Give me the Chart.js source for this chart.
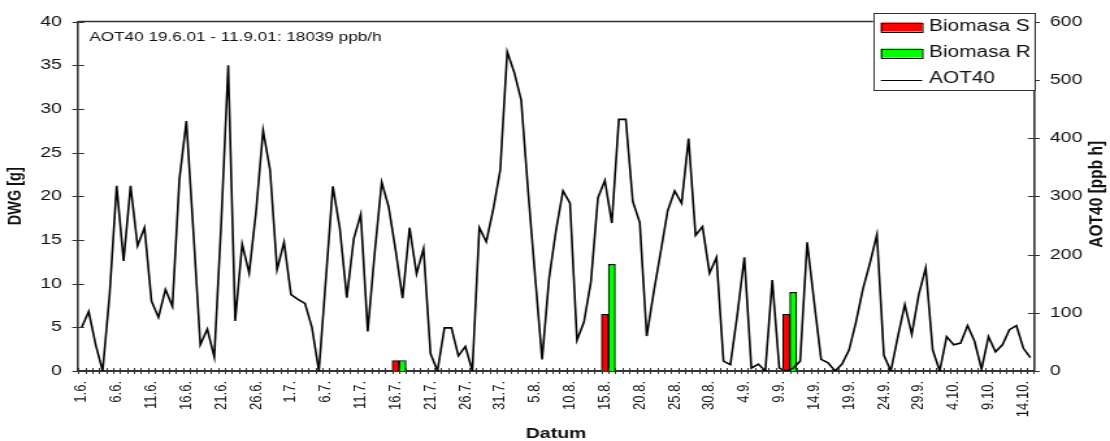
<!DOCTYPE html>
<html>
<head>
<meta charset="utf-8">
<script src="https://cdn.jsdelivr.net/npm/chart.js@4.4.1/dist/chart.umd.min.js"></script>
<style>
  html, body { margin: 0; padding: 0; background: #fff; overflow: hidden; }
  #c { display: block; width: 1110px; height: 441px; }
</style>
</head>
<body>
<canvas id="c" width="854" height="441" style="width:1110px;height:441px"></canvas>
<script>
// ---- categories (daily, 1.6. - 15.10.) ----
const dates = [
  '1.6.','2.6.','3.6.','4.6.','5.6.','6.6.','7.6.','8.6.','9.6.','10.6.','11.6.','12.6.','13.6.','14.6.','15.6.',
  '16.6.','17.6.','18.6.','19.6.','20.6.','21.6.','22.6.','23.6.','24.6.','25.6.','26.6.','27.6.','28.6.','29.6.','30.6.',
  '1.7.','2.7.','3.7.','4.7.','5.7.','6.7.','7.7.','8.7.','9.7.','10.7.','11.7.','12.7.','13.7.','14.7.','15.7.','16.7.',
  '17.7.','18.7.','19.7.','20.7.','21.7.','22.7.','23.7.','24.7.','25.7.','26.7.','27.7.','28.7.','29.7.','30.7.','31.7.',
  '1.8.','2.8.','3.8.','4.8.','5.8.','6.8.','7.8.','8.8.','9.8.','10.8.','11.8.','12.8.','13.8.','14.8.','15.8.','16.8.',
  '17.8.','18.8.','19.8.','20.8.','21.8.','22.8.','23.8.','24.8.','25.8.','26.8.','27.8.','28.8.','29.8.','30.8.','31.8.',
  '1.9.','2.9.','3.9.','4.9.','5.9.','6.9.','7.9.','8.9.','9.9.','10.9.','11.9.','12.9.','13.9.','14.9.','15.9.',
  '16.9.','17.9.','18.9.','19.9.','20.9.','21.9.','22.9.','23.9.','24.9.','25.9.','26.9.','27.9.','28.9.','29.9.','30.9.',
  '1.10.','2.10.','3.10.','4.10.','5.10.','6.10.','7.10.','8.10.','9.10.','10.10.','11.10.','12.10.','13.10.','14.10.','15.10.'
];

// ---- AOT40 daily values [ppb h] (right axis) ----
const aot40 = [
  75, 102, 45, 0, 132, 318, 189, 318, 215, 246,
  120, 92, 140, 111, 329, 429, 240, 45, 72, 24,
  255, 525, 86, 218, 168, 275, 413, 345, 174, 221,
  131, 123, 116, 75, 0, 158, 317, 245, 126, 227,
  269, 68, 203, 324, 282, 207, 125, 246, 167, 210,
  30, 0, 74, 74, 26, 42, 0, 246, 222, 278,
  345, 548, 513, 465, 308, 162, 20, 159, 242, 309,
  288, 53, 84, 153, 297, 327, 254, 432, 432, 291,
  255, 60, 135, 204, 275, 309, 288, 399, 233, 248,
  168, 195, 17, 11, 98, 195, 5, 12, 0, 156,
  5, 0, 5, 17, 221, 119, 20, 14, 0, 12,
  36, 84, 141, 185, 234, 27, 0, 59, 114, 63,
  131, 177, 36, 0, 59, 45, 48, 78, 51, 3,
  59, 33, 45, 71, 78, 39, 23
];

// ---- Biomass (DWG [g], left axis) ----
const biomasaSDates  = ['16.7.', '15.8.', '10.9.'];
const biomasaSValues = [1.2, 6.5, 6.5];
const biomasaRDates  = ['17.7.', '16.8.', '11.9.'];
const biomasaRValues = [1.2, 12.2, 9.0];

// ---- axis ticks ----
const leftTicks  = { min: 0, max: 40, step: 5 };
const rightTicks = { min: 0, max: 600, step: 100 };
const labelEvery = 5;

const noteText = 'AOT40 19.6.01 - 11.9.01: 18039 ppb/h';
const FONT = 'Liberation Sans, Arial, sans-serif';
const AXIS_COLOR = '#333';
const TEXT_COLOR = '#111';

const extras = {
  id: 'extras',
  afterDraw(chart) {
    const ctx = chart.ctx;
    const a = chart.chartArea;
    const xs = chart.scales.x, ys = chart.scales.y, y1 = chart.scales.y1;
    ctx.save();
    // top frame line
    ctx.strokeStyle = AXIS_COLOR;
    ctx.lineWidth = 1.4;
    ctx.beginPath(); ctx.moveTo(a.left, a.top); ctx.lineTo(a.right, a.top); ctx.stroke();
    // cross tick marks
    ctx.lineWidth = 1;
    ctx.beginPath();
    const n = chart.data.labels.length;
    const cw = (xs.right - xs.left) / n;
    for (let i = 0; i <= n; i++) {
      const px = Math.round(xs.left + i * cw) + 0.5;
      ctx.moveTo(px, a.bottom - 3); ctx.lineTo(px, a.bottom + 3);
    }
    ys.ticks.forEach(t => {
      const py = Math.round(ys.getPixelForValue(t.value)) + 0.5;
      ctx.moveTo(a.left - 4.6, py); ctx.lineTo(a.left + 4.6, py);
    });
    y1.ticks.forEach(t => {
      const py = Math.round(y1.getPixelForValue(t.value)) + 0.5;
      ctx.moveTo(a.right - 4.6, py); ctx.lineTo(a.right + 4.6, py);
    });
    ctx.stroke();

    // note text
    ctx.fillStyle = TEXT_COLOR;
    ctx.font = '13.2px ' + FONT;
    ctx.textAlign = 'left';
    ctx.textBaseline = 'alphabetic';
    ctx.fillText(noteText, a.left + 8.5, a.top + 19.3);

    // right axis title (reads bottom to top)
    ctx.save();
    ctx.translate(843.8, (a.top + a.bottom) / 2 - 2);
    ctx.rotate(-Math.PI / 2);
    ctx.font = 'bold 15.5px ' + FONT;
    ctx.textAlign = 'center';
    ctx.textBaseline = 'middle';
    ctx.fillText('AOT40 [ppb h]', 0, 0);
    ctx.restore();

    // legend box
    const bx1 = a.right + 0.5, bx0 = 671.8, by0 = 12.7, by1 = 90;
    ctx.fillStyle = '#fff';
    ctx.fillRect(bx0, by0, bx1 - bx0, by1 - by0);
    ctx.strokeStyle = AXIS_COLOR;
    ctx.lineWidth = 1;
    ctx.strokeRect(Math.round(bx0) + 0.5, Math.round(by0) + 0.5, Math.round(bx1 - bx0), Math.round(by1 - by0));
    const sx = 677.7, sw = 31.8, tx = 714.8;
    ctx.font = '16px ' + FONT;
    ctx.textAlign = 'left';
    ctx.textBaseline = 'alphabetic';
    chart.data.datasets.forEach((ds, k) => {
      const base = by0 + 17.8 + k * 26;
      if (ds.type === 'bar') {
        ctx.fillStyle = ds.backgroundColor;
        ctx.fillRect(sx, base - 8, sw, 9);
        ctx.strokeStyle = '#000';
        ctx.strokeRect(sx + 0.5, Math.round(base - 8) + 0.5, sw, 9);
      } else {
        ctx.strokeStyle = '#000';
        ctx.beginPath();
        ctx.moveTo(sx, Math.round(base - 3) + 0.5); ctx.lineTo(sx + sw, Math.round(base - 3) + 0.5);
        ctx.stroke();
      }
      ctx.fillStyle = TEXT_COLOR;
      ctx.fillText(ds.label, tx, base);
    });
    ctx.restore();
  }
};

const canvas = document.getElementById('c');
const chart = new Chart(canvas.getContext('2d'), {
  type: 'bar',
  data: {
    labels: dates,
    datasets: [
      {
        type: 'bar', label: 'Biomasa S', yAxisID: 'y', order: 1,
        data: biomasaSDates.map((d, i) => ({ x: d, y: biomasaSValues[i] })),
        backgroundColor: '#ff0000', borderColor: '#000', borderWidth: 1.1,
        grouped: false, barPercentage: 1, categoryPercentage: 1
      },
      {
        type: 'bar', label: 'Biomasa R', yAxisID: 'y', order: 1,
        data: biomasaRDates.map((d, i) => ({ x: d, y: biomasaRValues[i] })),
        backgroundColor: '#00ff00', borderColor: '#000', borderWidth: 1.1,
        grouped: false, barPercentage: 1, categoryPercentage: 1
      },
      {
        type: 'line', label: 'AOT40', yAxisID: 'y1', order: 0,
        data: aot40,
        borderColor: '#000', borderWidth: 1.6, pointRadius: 0, tension: 0, fill: false
      }
    ]
  },
  options: {
    responsive: false,
    animation: false,
    events: [],
    layout: { padding: { top: 20, left: 0, right: 0, bottom: 0 } },
    plugins: { legend: { display: false }, tooltip: { enabled: false } },
    scales: {
      x: {
        type: 'category', offset: true,
        grid: { display: false, drawTicks: false },
        border: { display: true, color: AXIS_COLOR, width: 2 },
        ticks: {
          autoSkip: false, maxRotation: 90, minRotation: 90, padding: 10,
          color: TEXT_COLOR, font: { family: FONT, size: 13 },
          callback(v, i) { return i % labelEvery === 0 ? this.getLabelForValue(v) : ''; }
        },
        title: { display: true, text: 'Datum', color: TEXT_COLOR, padding: 0,
                 font: { family: FONT, size: 15, weight: 'bold', lineHeight: 1 } },
        afterFit(s) { s.height = 70; }
      },
      y: {
        position: 'left', min: leftTicks.min, max: leftTicks.max,
        grid: { display: false, drawTicks: false },
        border: { display: true, color: AXIS_COLOR, width: 1.6 },
        ticks: { stepSize: leftTicks.step, padding: 12.5, color: TEXT_COLOR, font: { family: FONT, size: 15 } },
        title: { display: true, text: 'DWG [g]', color: TEXT_COLOR, padding: { top: 4.5, bottom: 0 },
                 font: { family: FONT, size: 14.5, weight: 'bold', lineHeight: 1 } },
        afterFit(s) { s.width = 60.2; }
      },
      y1: {
        position: 'right', min: rightTicks.min, max: rightTicks.max,
        grid: { display: false, drawTicks: false },
        border: { display: true, color: AXIS_COLOR, width: 1.6 },
        ticks: { stepSize: rightTicks.step, padding: 12.3, color: TEXT_COLOR, font: { family: FONT, size: 15 } },
        afterFit(s) { s.width = 854 - 795.4; }
      }
    }
  },
  plugins: [extras]
});
canvas.style.width = '1110px';
canvas.style.height = '441px';
</script>
</body>
</html>
